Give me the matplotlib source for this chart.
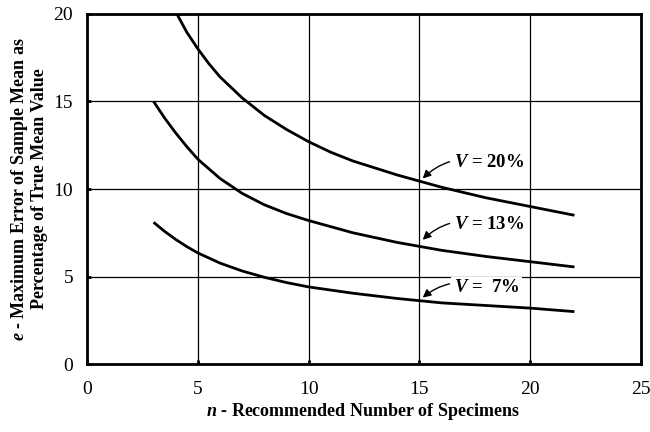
import matplotlib.pyplot as plt

plt.rcParams['font.family'] = 'Liberation Serif'
plt.rcParams['mathtext.fontset'] = 'custom'
plt.rcParams['mathtext.it'] = 'Liberation Serif:italic:bold'
plt.rcParams['mathtext.rm'] = 'Liberation Serif:bold'

# curves: n (specimens) vs e (% error)
n_20 = [4.05, 4.5, 5, 5.5, 6, 7, 8, 9, 10, 11, 12, 14, 16, 18, 20, 22]
e_20 = [20.0, 18.95, 18.0, 17.15, 16.4, 15.2, 14.2, 13.4, 12.7, 12.1, 11.6, 10.8, 10.1, 9.5, 9.0, 8.5]
n_13 = [3, 3.5, 4, 4.5, 5, 6, 7, 8, 9, 10, 12, 14, 16, 18, 20, 22]
e_13 = [15.0, 14.05, 13.2, 12.42, 11.7, 10.6, 9.75, 9.1, 8.6, 8.2, 7.5, 6.95, 6.5, 6.15, 5.85, 5.55]
n_7 = [3, 3.5, 4, 4.5, 5, 6, 7, 8, 9, 10, 12, 14, 16, 18, 20, 22]
e_7 = [8.1, 7.58, 7.12, 6.71, 6.35, 5.77, 5.32, 4.96, 4.66, 4.41, 4.05, 3.75, 3.5, 3.35, 3.2, 3.0]

labels = [r'$V$ = 20%', r'$V$ = 13%', r'$V$ =  7%']
label_pos = [(16.55, 11.5), (16.55, 7.95), (16.55, 4.35)]
arrow_tips = [(15.15, 10.6), (15.15, 7.1), (15.15, 3.8)]

xticks = [0, 5, 10, 15, 20, 25]
yticks = [0, 5, 10, 15, 20]

fig = plt.figure(figsize=(6.5, 4.32), dpi=100)
ax = fig.add_axes([0.134, 0.157, 0.852, 0.811])

for n, e in [(n_20, e_20), (n_13, e_13), (n_7, e_7)]:
    ax.plot(n, e, color='black', lw=2.0, solid_capstyle='butt',
            solid_joinstyle='round', zorder=3)

for txt, pos, tip in zip(labels, label_pos, arrow_tips):
    ax.annotate(txt, xy=tip, xytext=pos, fontsize=13.5, fontweight='bold',
                ha='left', va='center', zorder=4,
                bbox=dict(boxstyle='square,pad=0.15', fc='white', ec='none'),
                arrowprops=dict(arrowstyle='-|>', color='black', lw=1.0,
                                shrinkA=1, shrinkB=0, mutation_scale=12,
                                connectionstyle='arc3,rad=0.3'))

ax.set_xlim(0, 25)
ax.set_ylim(0, 20)
ax.set_xticks(xticks)
ax.set_yticks(yticks)
ax.grid(True, color='black', lw=0.9)
ax.set_axisbelow(True)
ax.tick_params(direction='in', length=3, width=2, labelsize=14)
ax.tick_params(axis='x', pad=12)
ax.tick_params(axis='y', pad=10)
for s in ax.spines.values():
    s.set_linewidth(2)

ax.set_xlabel(r'$n$ - Recommended Number of Specimens', fontsize=13,
              fontweight='bold')
ax.xaxis.set_label_coords(0.498, -0.105)
ax.set_ylabel('$e$ - Maximum Error of Sample Mean as\nPercentage of True Mean Value',
              fontsize=13, fontweight='bold', linespacing=1.1)
ax.yaxis.set_label_coords(-0.07, 0.5)

fig.savefig('out.png', dpi=100)
